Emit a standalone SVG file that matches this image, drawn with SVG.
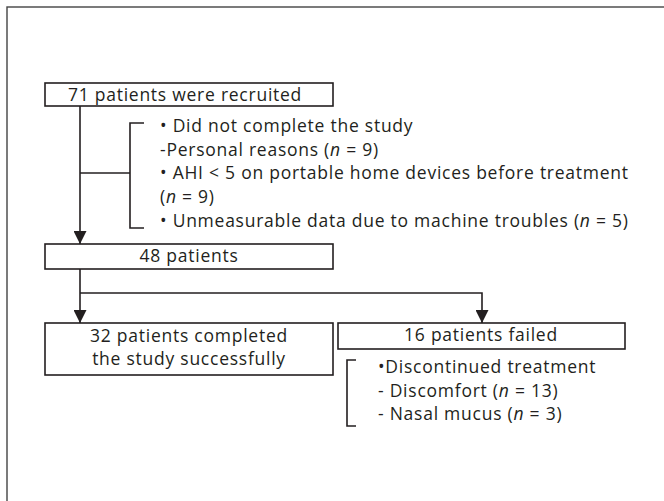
<svg xmlns="http://www.w3.org/2000/svg" width="664" height="501" viewBox="0 0 664 501">
<style>
.box{fill:#fff;stroke:#231f20;stroke-width:1.6}
.ln{fill:none;stroke:#231f20;stroke-width:1.6}
text{font-family:"Open Sans","Noto Sans",sans-serif;font-size:17.5px;letter-spacing:0.75px;fill:#231f20}
.c{text-anchor:middle}
.i{font-style:italic}
</style>
<defs>
<marker id="ah" markerUnits="userSpaceOnUse" markerWidth="13" markerHeight="13" viewBox="0 0 12 12" refX="12" refY="6" orient="auto">
<path d="M0,0 L12,6 L0,12 z" fill="#231f20"/>
</marker>
</defs>
<rect x="7" y="7" width="700" height="600" fill="#fff" stroke="#444" stroke-width="1.4"/>
<g id="connectors">
<line class="ln" x1="80" y1="106" x2="80" y2="244" marker-end="url(#ah)"/>
<line class="ln" x1="80" y1="173" x2="130" y2="173"/>
<path class="ln" d="M144,123 H130 V228 H144"/>
<line class="ln" x1="80" y1="269" x2="80" y2="323" marker-end="url(#ah)"/>
<path class="ln" d="M80,293 H482 V323" marker-end="url(#ah)"/>
<path class="ln" d="M356,360 H347 V426 H356"/>
</g>
<g id="n1">
<rect class="box" x="45" y="83" width="288" height="23"/>
<text class="c" x="185" y="101">71 patients were recruited</text>
</g>
<g id="n-excl">
<text x="160" y="132">• Did not complete the study</text>
<text x="160" y="156">-Personal reasons (<tspan class="i">n</tspan> = 9)</text>
<text x="160" y="179">• AHI &lt; 5 on portable home devices before treatment</text>
<text x="160" y="203">(<tspan class="i">n</tspan> = 9)</text>
<text x="160" y="227">• Unmeasurable data due to machine troubles (<tspan class="i">n</tspan> = 5)</text>
</g>
<g id="n2">
<rect class="box" x="45" y="244" width="288" height="25"/>
<text class="c" x="189" y="262">48 patients</text>
</g>
<g id="n3">
<rect class="box" x="45" y="323" width="288" height="52"/>
<text class="c" x="189" y="342">32 patients completed</text>
<text class="c" x="189" y="365">the study successfully</text>
</g>
<g id="n4">
<rect class="box" x="338" y="323" width="287" height="26"/>
<text class="c" x="481" y="341">16 patients failed</text>
</g>
<g id="n-fail">
<text x="378" y="373">•Discontinued treatment</text>
<text x="378" y="397">- Discomfort (<tspan class="i">n</tspan> = 13)</text>
<text x="378" y="420">- Nasal mucus (<tspan class="i">n</tspan> = 3)</text>
</g>
</svg>
